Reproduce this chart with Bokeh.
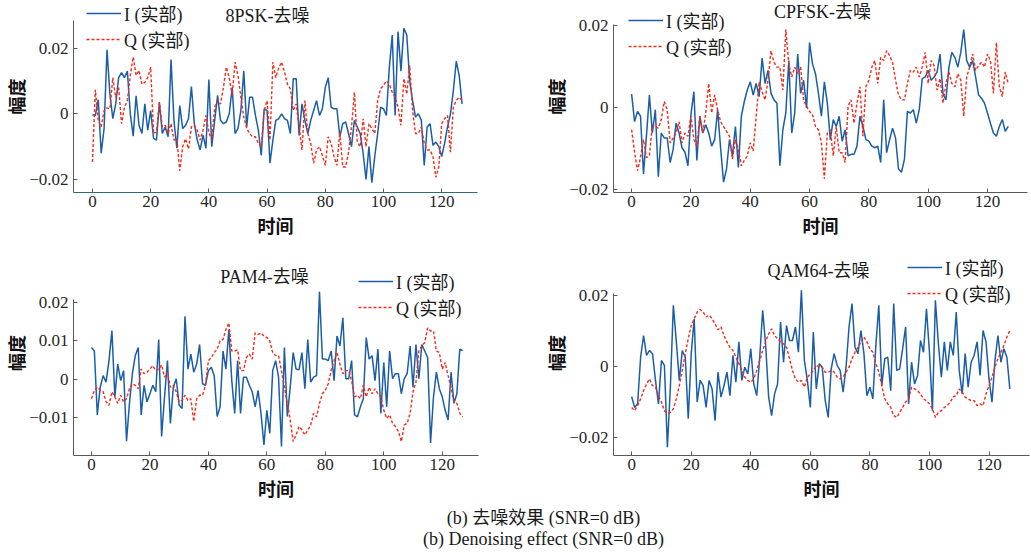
from bokeh.plotting import figure
from bokeh.layouts import column, row
from bokeh.models import (Range1d, FixedTicker, CustomJSTickFormatter, Legend,
                          LegendItem, Label, Div, ColumnDataSource)
from bokeh.embed import file_html
from bokeh.resources import INLINE

# ---------------- data (values in units of 1e-3) ----------------
SCALE = 1e-3
t = list(range(128))

psk8_I = [-0.3, -0.5, 4.3, -12, -4.5, 19.5, 6, -1.5, 3, 11, 12.5, 11, 13, 0, -6.8, 5.5, -3.5, -6, 3, -5,
          1, -7.5, -8, 3.5, -6, -4, -7, 16.5, -2, -10.5, 2.5, -4.5, -3.5, -1.5, 8.3, -3, -8, -11, -6.5, -10.5,
          10.4, -10, -2, 5.6, -2, -3, -2.5, 0, 8, -6, -4.5, 1, 13, -4, 5, 5, -0.5, -5, -12.7, 1.5,
          1, -15, -8, -2, -1.5, 0, -1.5, -2, -6, 10.7, 10.7, -6.6, 3, -2, -6, -2, 1, 4, -0.5, 1.5,
          8, 11, 2, 1.5, 1.5, -7, -3, -2.5, -6, -10, -2, -4, -6, -12, -20, -10, -21, -13, -6, 2,
          1.5, -0.5, 14, 24, -0.5, 25, 13, 26, 24, 10, 4, -1, 0, -2, -15.7, -4, -3, -9.6, -8.6, -10,
          -13, -9, -4, 0, 7, 16, 11.7, 3]
psk8_Q = [-14.7, 7.3, -2, -4, 1, 1.8, 1.5, 11, 5, 8, -3, 2, 4, 11.7, 17.3, 11.7, 13.2, 9, 9.6, 11,
          14.2, -6, -5.6, 3.5, -4, -3.5, -6, -3, -8, -7.6, -17.3, -10, -7.6, -10.7, -4, -3.5, -5, -8, -5, -0.5,
          -5.6, -8, 2, 4, 3, 8, 14.2, 11, 5.6, 15.7, 11.7, 5, -1, -4.5, -6, -7, -7, -9, -10, 1,
          4, -8, 15.7, 11, 14, 15.7, 12.7, 9, 7.6, 1, 3, -4, -11, 4, -6, -9, -15, -11, -10, -12.7,
          -15.7, -7, -9, -13, -15.7, -5.6, -16.2, -16.2, -11.7, -4, 6.6, -8.6, -10, -1.5, -10, -3, -4.5, -6, 4, 7.6,
          8.6, 10, 9, 6.6, 5, 2, -3.5, 10.7, 6, 14.7, 1, -6, -6, -4, -9, -11, -11, -13, -19.3, -16.2,
          -3, -1.5, -0.5, -11.7, 2, 4, 5, 4]

cpfsk_I = [3.2, -3.5, -1, -2.2, -16.3, -7, 3, -6.3, -0.6, -17, -6.3, -7.5, -7.5, -13.5, -10.3, -3.9, -6.3, -9.9, -11, -14.3,
           -1.8, 3.8, -13, -2.2, -6.3, -4.3, -6.3, -9.5, -7.9, -0.6, -9.9, -18.3, -15.1, -7.9, -11.9, -4.7, -14.7, -2.2, 1.4, 4.2,
           6.2, 3, 5.8, 2.6, 12, 5.8, 9, 3.4, 1.8, 1, -14.3, -5.5, -1.4, 11.4, -6.3, -1.4, 13, 3.4, 6.6, -0.2,
           15.8, 10.6, 8.2, 3.4, -2.2, 6.2, 1, -7.9, -3, -4.7, -2.2, -8.3, -5.5, -11.9, -11.5, -11.5, -9.5, -2.2, -4.7, -7.9,
           -8.3, -9.5, -9.9, -9.5, -13.5, 1.8, -11.1, -7.9, -5.1, -7.5, -15.1, -15.9, -12.7, -1, -1.4, -0.6, -3.9, -0.6, 7, 7.4,
           9, 6.6, 7.4, 8.6, 13, 3.4, 1.8, 9.8, 13.4, 12.2, 9.8, 13.4, 19, 11.4, 9.8, 11.4, 7.4, 3, 2.2, 1,
           -1.4, -3.9, -6.3, -7.1, -4.7, -3, -5.9, -4.7]
cpfsk_Q = [-5.5, -11, -15.5, -12.3, -7.9, -12.3, -11.9, -4.3, -4.7, -5.1, -3, 1.4, -0.6, -8.7, -7.5, -6.3, -3.5, -8.7, -6.3, -7.1,
           -2.2, -7.9, -9.5, -2.2, -6.3, -1.4, 5.8, -1.4, 3, -0.6, -3.5, -4.7, -5.9, -7.1, -12.7, -7.9, -10.3, -14.3, -13, -11.9,
           -8.7, -10.7, -2.2, 6.2, 3.8, 1.8, 6.6, 13.8, 11, 9.8, 9.8, 4.2, 19, 10.6, 7.4, 9.8, 8.2, 9.8, 1.8, 0.2,
           -1, -1.8, -4.7, -5.5, -8.7, -17.5, -6.3, -5.5, -11.9, -4.7, -11.1, -11.1, -13.5, 0.2, 1.8, -3.9, 1, 5, -7.1, 5,
           6.6, 9.8, 11.4, 5.8, 12.2, 11.4, 13.8, 12.6, 11, 6.6, 3, 1.8, 1.8, 5.8, 9, 8.6, 9.8, 7.4, 9.8, 13.4,
           5.8, 11.4, 10.2, 4.2, 7, 1, 5.8, 8.6, 5.8, 5, 8.2, 6.6, -2.2, 7.4, 9.8, 13, 9, 10.2, 11, 9.8,
           13, 11.4, 3.4, 15.8, 5, 2.6, 8.6, 5.8]

pam4_I = [8.3, 7.4, -9.2, -2, 1, -0.7, 4.9, 12.7, -4.5, 4, -0.3, 2.3, -16, -6.2, 1.5, 6.2, 8.3, -9.2, -1.5, -5.8,
          -3.7, -1.5, -3.2, 10.4, -14.8, -4.5, 4.9, -11.4, -2, 0.2, -6.7, -7.5, 16.4, 2.7, 6.6, 1.9, 4, 9.1, -1.1, -1.5,
          2.3, 3.2, 1, -9.6, -7.1, 7.4, 2.7, 13, -0.3, -8.8, 4.9, -8.8, 0.6, 0.6, -1.5, -3.2, -7.1, -2.8, -8.8, -17,
          -8, -14, 2.3, 4.9, 0.6, -17.4, 8.3, -9.6, -2, 7, 2.7, 2.5, 7, -2.4, 10.4, -0.7, 0.6, 1, 22.8, 5.3,
          5.3, 4.9, 7.4, -0.3, 11.3, 8.7, 16, 0.2, 0.2, 4.9, -9.2, -9.7, -7.1, -5, 10.9, 5.3, 6.2, -0.3, 7.9, -8.8,
          4.4, -7.1, 7.4, 0.2, 1.5, 1.5, -3.7, 0.2, 1.5, 8.7, -2, 9.1, 0.2, 9.1, 7.4, 5.7, -16.5, -4.5, 1.9, -2.4,
          -4.5, -8, -10.5, 1.9, -6.2, -3.7, 7.9, 7.5]
pam4_Q = [-5, -2.8, -2, -2.8, -3.2, -5.8, -6.7, -3.2, -4.5, -6.2, -4.1, -5.8, -5, -2.4, -1.1, -1.5, -2.4, 2.7, 1.5, 1.9,
          2.7, 3.6, 2.3, 2.7, 3.8, 0.6, 1.9, -2, -1.5, -3.2, -5.8, -5.4, -4.1, -5.4, -5, -10.9, -5, -4.1, -4.1, -1.5,
          4.9, 5.7, 7, 7.9, 10, 10.4, 13, 14.7, 7.4, 7.4, 7.7, 2.3, 2.3, 5.7, 6.6, 5.3, 12.1, 11.7, 12.1, 11.3,
          10.9, 10, 7, 6.2, 6.2, 2.3, -2, -6.2, -10.5, -16.1, -14.4, -12.2, -13.1, -14.4, -13.1, -11.8, -8.8, -9.7, -6.2, -3.7,
          -2.8, -1.1, 2.3, 4.9, 7, 4, 1.5, 2.3, 2.3, -0.3, -4.5, -4.1, -5, -1.5, -4.5, -2, -3.7, -2.4, -3.7, -4.5,
          -8, -10.1, -9.2, -11.4, -12.2, -13.5, -16.1, -11.8, -11.4, -8.8, -3.2, -0.7, 7.4, 8.7, 9.6, 13.4, 12.6, 12.6, 7.4, 7,
          2.7, 4.4, 1, -2, -5.8, -6.2, -8.8, -9.7]

qam64_I = [-8.5, -11.5, -10.5, 2.6, 8.7, 3.1, 4.5, 3.6, -3.9, -10.5, 1.7, 0.3, -22.7, -5.8, 17.2, 6.9, -3.9, 4.5, 2.6, -14.7,
           3.6, 13.4, -10, -3.9, -5.4, -11.5, -3.9, -6.3, -15.2, -1.6, -8.6, -5.4, -1.6, -8.2, 3.1, -4.4, 6.9, -3.9, -0.2, -2.1,
           5, -4.9, -8.2, 2.6, 15.8, 5.9, -8.6, -13.8, -7.7, -4.9, 12.5, 1.2, 11.5, 7.3, 7.3, 11.1, 4, 21.4, 1.7, -3.9,
           -11.5, 9.7, -6.3, 0.8, -0.2, -9.6, -14.3, -0.7, 3.6, 0.3, -1.1, -7.2, -0.2, 11.1, 17.7, 5.4, 3.6, 10.1, 3.6, -8.2,
           -5.8, -9.1, 5.9, 17.2, -5.4, 2.2, 2.6, -6.8, 17.7, -1.1, -0.7, 5, 11.1, -10.5, 1.2, -4.9, -2.5, 7.3, 4, 16.2,
           4, -12.4, 18.6, 6.4, -3, 6.9, -1.1, 6.9, 3.1, 15.3, -1.1, -7.7, 3.6, -5.8, 1.2, 3.1, 6.9, -2.5, 10.1, 6.9,
           -3.5, -10, 1.7, 8.7, 1.2, 5, 2.6, -6.3]
qam64_Q = [-11.5, -12.4, -11, -9.1, -6.8, -4.9, -3.5, -5.4, -5.8, -8.2, -10, -12.4, -13.1, -12.9, -11.9, -9.1, -5.4, -1.1, 3.6, 7.8,
           11.5, 13.4, 15.3, 16, 15.3, 13.9, 14.4, 13.4, 12, 10.3, 11.1, 8.7, 6.9, 5.4, 4.5, 2.6, 0.8, -1.1, -3, -3.9,
           -4.4, -3.5, -1.1, 1.7, 4.5, 6.9, 9.2, 10.6, 8.7, 7.8, 6.9, 6.4, 5.4, 2.2, -1.1, -3.5, -4.4, -3.9, -5.8, -3,
           -2.1, -1.1, 0.3, -0.2, -0.2, -1.6, -1.6, -1.1, -1.6, -3, -3.5, -3, -1.6, -0.2, 2.2, 4, 5.4, 6.9, 8.3, 6.9,
           5, 4, 0.8, -1.6, -5.4, -9.1, -10.5, -11.5, -13.8, -14.3, -12.9, -11.5, -10, -9.1, -5.8, -6.3, -6.8, -7.7, -9.1, -9.6,
           -10.5, -11.9, -14.3, -12.9, -12.4, -11.5, -11, -10, -8.5, -8.2, -6.3, -7.2, -8.6, -9.1, -9.6, -9.6, -11, -10.5, -11, -7.7,
           -5.4, -3, -0.2, 2.2, 4, 5.9, 8.3, 10.1]

titles = ["8PSK-去噪", "CPFSK-去噪", "PAM4-去噪", "QAM64-去噪"]
legend_labels = ["I (实部)", "Q (实部)"]
x_ticks = [0, 20, 40, 60, 80, 100, 120]
caption_cn = "(b) 去噪效果 (SNR=0 dB)"
caption_en = "(b) Denoising effect (SNR=0 dB)"

# ---------------- style ----------------
SERIF = "Liberation Serif, Noto Sans CJK SC"
CJK = "Noto Sans CJK SC"
BLUE = "#1b5ea8"
RED = "#f52a18"
AXIS = "#5a5a5a"

yfmt_code = """
if (Math.abs(tick) < 1e-12) return '0';
return (tick < 0 ? '\u2212' : '') + Math.abs(tick).toFixed(2);
"""


def panel(title, I, Q, w, h, bl, br, bb, xr, yr, ybounds, yticks, leg_xy,
          title_xy, xaxis_color=AXIS):
    p = figure(width=w, height=h, output_backend="svg", toolbar_location=None,
               x_range=Range1d(*xr), y_range=Range1d(*yr),
               min_border_left=bl, min_border_right=br, min_border_top=0,
               min_border_bottom=bb)
    p.outline_line_color = None
    p.grid.visible = False
    src = ColumnDataSource(dict(t=t, i=[v * SCALE for v in I], q=[v * SCALE for v in Q]))
    ri = p.line("t", "i", source=src, line_color=BLUE, line_width=1.5)
    rq = p.line("t", "q", source=src, line_color=RED, line_width=1.4, line_dash="3 2")

    p.xaxis.ticker = FixedTicker(ticks=x_ticks)
    p.yaxis.ticker = FixedTicker(ticks=yticks)
    p.yaxis.formatter = CustomJSTickFormatter(code=yfmt_code)
    p.yaxis.bounds = ybounds
    for ax in (p.xaxis[0], p.yaxis[0]):
        ax.axis_line_color = AXIS
        ax.major_tick_line_color = AXIS
        ax.major_tick_in = 4
        ax.major_tick_out = 0
        ax.minor_tick_line_color = None
        ax.major_label_text_font = SERIF
        ax.major_label_text_font_size = "17px"
        ax.major_label_text_color = "#262626"
        ax.axis_label_text_font = CJK
        ax.axis_label_text_font_style = "bold"
        ax.axis_label_text_font_size = "18px"
        ax.axis_label_text_color = "#111111"
    p.xaxis.axis_line_color = xaxis_color
    p.xaxis.axis_label = "时间"
    p.yaxis.axis_label = "幅度"
    p.xaxis.major_label_standoff = 3
    p.yaxis.major_label_standoff = 5
    p.xaxis.axis_label_standoff = 2
    p.yaxis.axis_label_standoff = -3

    leg = Legend(items=[LegendItem(label=legend_labels[0], renderers=[ri]),
                        LegendItem(label=legend_labels[1], renderers=[rq])],
                 location=leg_xy, orientation="vertical",
                 border_line_color=None, background_fill_alpha=0,
                 padding=0, margin=0, spacing=0,
                 glyph_width=35, glyph_height=20, label_height=20,
                 label_standoff=3, label_text_font=SERIF,
                 label_text_font_size="18px", label_text_color="#1a1a1a")
    p.add_layout(leg)

    p.add_layout(Label(x=title_xy[0], y=title_xy[1], x_units="screen", y_units="screen",
                       text=title, text_font=SERIF, text_font_size="18px",
                       text_color="#1a1a1a", text_align="center", text_baseline="middle"))
    return p


f1 = panel(titles[0], psk8_I, psk8_Q, 540, 250, 72, 63, 58,
           (-6.51, 132.3), (-0.02396, 0.03449), (-0.02396, 0.0284), [-0.02, 0, 0.02],
           (13, 140), (194, 177), xaxis_color="#2e6a78")
f2 = panel(titles[1], cpfsk_I, cpfsk_Q, 491, 250, 69, 4, 57,
           (-6.11, 133.5), (-0.02083, 0.02608), (-0.02083, 0.0202), [-0.02, 0, 0.02],
           (15, 133), (209, 181))
f3 = panel(titles[2], pam4_I, pam4_Q, 540, 258, 72, 62, 53,
           (-6.14, 132.4), (-0.01974, 0.0335), (-0.01974, 0.02078), [-0.01, 0, 0.01, 0.02],
           (285, 135), (191, 179))
f4 = panel(titles[3], qam64_I, qam64_Q, 491, 258, 70, 2, 53,
           (-6.1, 133.6), (-0.025, 0.03258), (-0.025, 0.0205), [-0.02, 0, 0.02],
           (294, 149), (205, 185))

cap = Div(text=(
    '<div style="position:relative; left:28px; width:1031px; text-align:center; '
    'font-family: \'Liberation Serif\', \'Noto Sans CJK SC\'; font-size:18px; '
    'line-height:21px; color:#1a1a1a; padding-top:0px;">'
    f'{caption_cn}<br>{caption_en}</div>'),
    width=1031, height=49, margin=(0, 0, 0, 0))

layout = column(row(f1, f2), row(f3, f4), cap)

with open("out.html", "w") as fh:
    fh.write(file_html(layout, INLINE))
